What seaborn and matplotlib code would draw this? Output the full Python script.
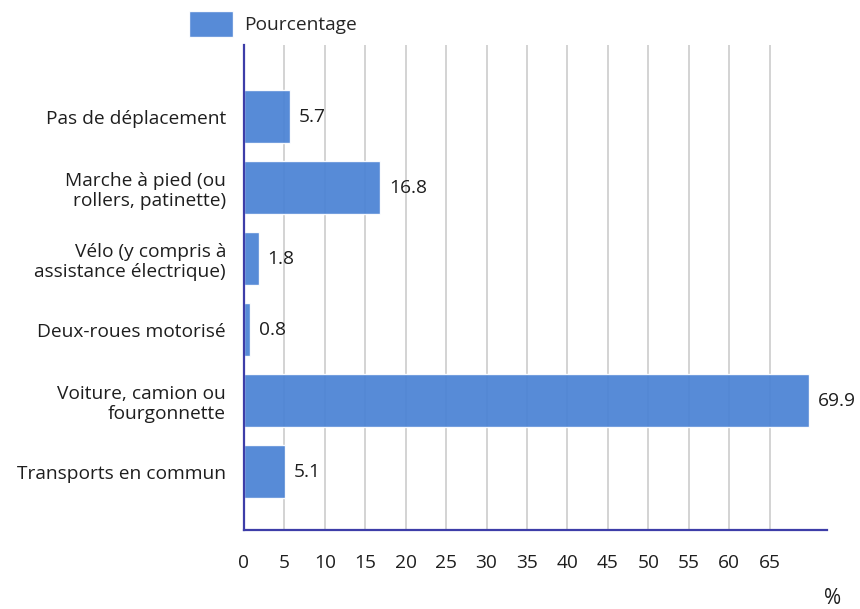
import matplotlib
matplotlib.use("Agg")
import matplotlib.pyplot as plt
import seaborn as sns
import pandas as pd

categories = ["Pas de déplacement",
              "Marche à pied (ou\nrollers, patinette)",
              "Vélo (y compris à\nassistance électrique)",
              "Deux-roues motorisé",
              "Voiture, camion ou\nfourgonnette",
              "Transports en commun"]
values = [5.7, 16.8, 1.8, 0.8, 69.9, 5.1]
xticks = list(range(0, 70, 5))

sns.set_theme(style="white")
plt.rcParams['font.family'] = ['Open Sans', 'DejaVu Sans']

df = pd.DataFrame({"cat": categories, "val": values})

fig = plt.figure(figsize=(8.6, 6.09), dpi=100)
ax = fig.add_axes([244/860, 1-530/609, (827-244)/860, (530-45)/609])

bar_color = "#4a82d4"
axis_color = "#3d3da8"
text_color = "#1e1e1e"
fs = 13.8

sns.barplot(data=df, x="val", y="cat", orient="h", color=bar_color,
            saturation=1, width=0.75, ax=ax, label="Pourcentage", zorder=1)
for p in ax.patches:
    p.set_alpha(0.93)

ax.set_xlim(0, 72.1)
ax.set_ylim(5.82, -1.01)
ax.set_xticks(xticks)
ax.set_xticklabels([str(t) for t in xticks], fontsize=fs, color=text_color)
ax.tick_params(axis="y", labelsize=fs, length=0, pad=13, labelcolor=text_color)
ax.tick_params(axis="x", length=7, width=1.2, color="#cccccc", pad=10)
ax.xaxis.grid(True, color="#cccccc", linewidth=1.2)
ax.set_axisbelow(True)
ax.set_xlabel("")
ax.set_ylabel("")
for lbl in ax.get_yticklabels():
    lbl.set_linespacing(1.15)

for s in ["top", "right"]:
    ax.spines[s].set_visible(False)
for s in ["left", "bottom"]:
    ax.spines[s].set_color(axis_color)
    ax.spines[s].set_linewidth(1.6)
    ax.spines[s].set_zorder(3)

for i, v in enumerate(values):
    ax.text(v + 1.1, i, f"{v}", va="center", ha="left", fontsize=fs, color=text_color)

leg = ax.legend(loc="upper left", bbox_to_anchor=(189/860, 1-11/609),
                bbox_transform=fig.transFigure, frameon=False, fontsize=fs,
                handlelength=2.3, handleheight=1.75, handletextpad=0.55,
                borderaxespad=0, borderpad=0)

fig.text(833/860, 1-598/609, "%", ha="center", va="center", fontsize=15, color=text_color)

fig.savefig("out.png", dpi=100)
